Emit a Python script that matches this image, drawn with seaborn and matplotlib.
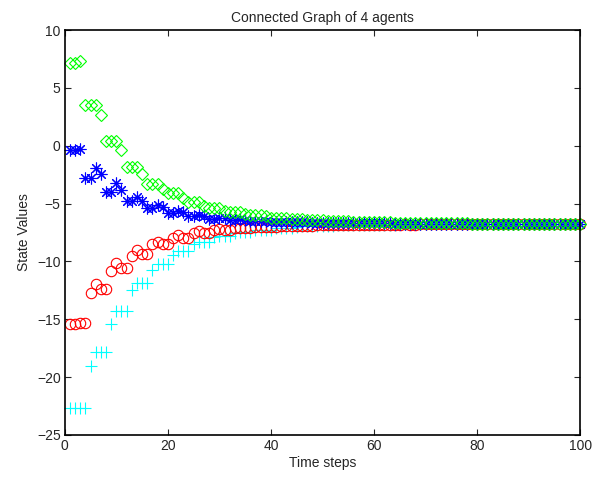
import matplotlib
matplotlib.use("Agg")
import matplotlib.pyplot as plt
import seaborn as sns
import numpy as np

sns.set_style("ticks")
plt.rcParams["font.family"] = ["Liberation Sans", "DejaVu Sans"]

steps = list(range(1, 101))

# Agent state trajectories (time steps 1..100)
agent_green = [
    7.2, 7.2, 7.3, 3.5, 3.5, 3.5, 2.65, 0.4, 0.4, 0.4,
    -0.35, -1.8, -1.8, -1.8, -2.4, -3.3, -3.3, -3.3, -3.75, -4.1,
    -4.1, -4.1, -4.5, -4.85, -4.85, -4.85, -5.2, -5.4, -5.4, -5.4,
    -5.6, -5.75, -5.75, -5.75, -5.9, -6.0, -6.0, -6.0, -6.1, -6.2,
    -6.2, -6.2, -6.27, -6.33, -6.33, -6.33, -6.38, -6.43, -6.43, -6.43,
    -6.47, -6.5, -6.5, -6.5, -6.53, -6.56, -6.56, -6.56, -6.58, -6.6,
    -6.6, -6.6, -6.62, -6.64, -6.64, -6.64, -6.65, -6.67, -6.67, -6.67,
    -6.68, -6.69, -6.69, -6.69, -6.7, -6.71, -6.71, -6.71, -6.72, -6.72,
    -6.72, -6.72, -6.73, -6.73, -6.73, -6.73, -6.74, -6.74, -6.74, -6.74,
    -6.75, -6.75, -6.75, -6.75, -6.75, -6.76, -6.76, -6.76, -6.76, -6.76,
]
agent_blue = [
    -0.4, -0.4, -0.25, -2.8, -2.8, -1.9, -2.45, -4.0, -4.0, -3.25,
    -3.8, -4.8, -4.8, -4.4, -4.75, -5.4, -5.4, -5.1, -5.3, -5.8,
    -5.8, -5.6, -5.75, -6.1, -6.1, -5.95, -6.05, -6.3, -6.3, -6.2,
    -6.25, -6.42, -6.42, -6.35, -6.4, -6.52, -6.52, -6.47, -6.5, -6.58,
    -6.58, -6.55, -6.57, -6.62, -6.62, -6.6, -6.61, -6.65, -6.65, -6.64,
    -6.65, -6.68, -6.68, -6.67, -6.68, -6.7, -6.7, -6.7, -6.7, -6.71,
    -6.71, -6.71, -6.71, -6.72, -6.72, -6.72, -6.72, -6.73, -6.73, -6.73,
    -6.73, -6.74, -6.74, -6.74, -6.74, -6.74, -6.74, -6.75, -6.75, -6.75,
    -6.75, -6.75, -6.75, -6.75, -6.75, -6.76, -6.76, -6.76, -6.76, -6.76,
    -6.76, -6.76, -6.76, -6.76, -6.76, -6.77, -6.77, -6.77, -6.77, -6.77,
]
agent_red = [
    -15.4, -15.4, -15.3, -15.3, -12.7, -11.95, -12.4, -12.4, -10.8, -10.1,
    -10.6, -10.6, -9.5, -9.0, -9.35, -9.35, -8.5, -8.3, -8.5, -8.5,
    -8.0, -7.75, -7.95, -7.95, -7.55, -7.4, -7.5, -7.5, -7.3, -7.2,
    -7.3, -7.3, -7.15, -7.08, -7.15, -7.15, -7.05, -7.0, -7.05, -7.05,
    -6.98, -6.94, -6.97, -6.97, -6.92, -6.9, -6.92, -6.92, -6.88, -6.86,
    -6.88, -6.88, -6.85, -6.84, -6.85, -6.85, -6.83, -6.82, -6.83, -6.83,
    -6.82, -6.81, -6.82, -6.82, -6.81, -6.8, -6.81, -6.81, -6.8, -6.8,
    -6.8, -6.8, -6.8, -6.79, -6.8, -6.8, -6.79, -6.79, -6.79, -6.79,
    -6.79, -6.79, -6.79, -6.79, -6.79, -6.78, -6.79, -6.79, -6.78, -6.78,
    -6.78, -6.78, -6.78, -6.78, -6.78, -6.78, -6.78, -6.78, -6.78, -6.78,
]
agent_cyan = [
    -22.7, -22.7, -22.7, -22.7, -19.0, -17.8, -17.8, -17.8, -15.4, -14.3,
    -14.3, -14.3, -12.5, -11.85, -11.85, -11.85, -10.7, -10.2, -10.2, -10.2,
    -9.4, -9.1, -9.1, -9.1, -8.45, -8.3, -8.3, -8.3, -7.9, -7.8,
    -7.8, -7.8, -7.55, -7.48, -7.48, -7.48, -7.3, -7.25, -7.25, -7.25,
    -7.12, -7.08, -7.08, -7.08, -7.0, -6.97, -6.97, -6.97, -6.92, -6.9,
    -6.9, -6.9, -6.87, -6.86, -6.86, -6.86, -6.84, -6.83, -6.83, -6.83,
    -6.82, -6.81, -6.81, -6.81, -6.8, -6.8, -6.8, -6.8, -6.8, -6.79,
    -6.79, -6.79, -6.79, -6.79, -6.79, -6.79, -6.79, -6.78, -6.78, -6.78,
    -6.78, -6.78, -6.78, -6.78, -6.78, -6.78, -6.78, -6.78, -6.78, -6.78,
    -6.78, -6.78, -6.78, -6.78, -6.78, -6.78, -6.78, -6.78, -6.78, -6.78,
]

x_ticks = [0, 20, 40, 60, 80, 100]
y_ticks = [-25, -20, -15, -10, -5, 0, 5, 10]

fig = plt.figure(figsize=(6.0, 4.78), dpi=100)
ax = fig.add_axes([0.108, 0.09, 0.859, 0.847])

series = [
    (agent_cyan, (0, 1, 1), "+", 8.5),
    (agent_red, (1, 0, 0), "o", 7.5),
    (agent_blue, (0, 0, 1), (8, 2, 0), 8.5),
    (agent_green, (0, 1, 0), "D", 6.0),
]
for vals, col, mk, ms in series:
    sns.lineplot(x=steps, y=vals, ax=ax, linestyle="", marker=mk,
                 markersize=ms, markerfacecolor="none", markeredgecolor=col,
                 markeredgewidth=0.8, color=col, estimator=None,
                 clip_on=False)

ax.set_xlim(0, 100)
ax.set_ylim(-25, 10)
ax.set_xticks(x_ticks)
ax.set_yticks(y_ticks)
ax.tick_params(direction="in", length=4, width=0.8, top=True, right=True,
               labelsize=10, pad=3)
for s in ax.spines.values():
    s.set_visible(True)
    s.set_linewidth(1.2)
    s.set_color("black")

ax.set_title("Connected Graph of 4 agents", fontsize=10, pad=6)
ax.set_xlabel("Time steps", fontsize=10, labelpad=2)
ax.set_ylabel("State Values", fontsize=10, labelpad=4)

fig.savefig("out.png", dpi=100, facecolor="white")
